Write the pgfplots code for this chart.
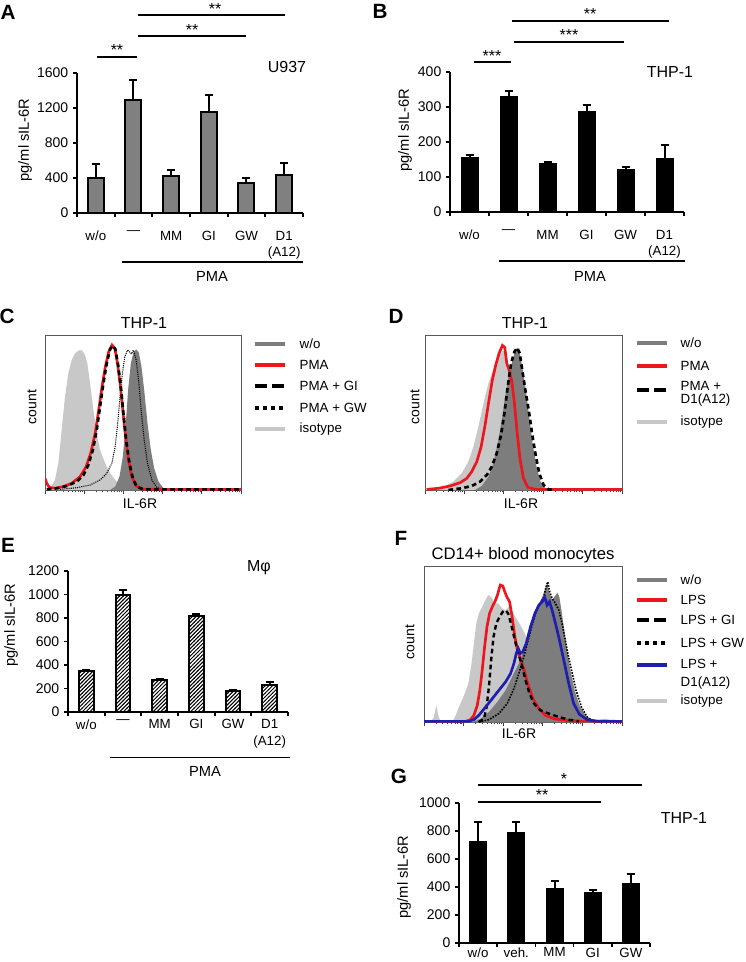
\documentclass[border=0pt]{standalone}
\usepackage{fontspec}
\setmainfont{Liberation Sans}
\usepackage{pgfplots}
\pgfplotsset{compat=1.18}
\usetikzlibrary{patterns}
\pgfdeclarepatternformonly{densehatch}{\pgfqpoint{-1pt}{-1pt}}{\pgfqpoint{4pt}{4pt}}{\pgfqpoint{2.8pt}{2.8pt}}{%
  \pgfsetlinewidth{0.75pt}%
  \pgfpathmoveto{\pgfqpoint{-0.2pt}{-0.2pt}}%
  \pgfpathlineto{\pgfqpoint{3pt}{3pt}}%
  \pgfusepath{stroke}}
\definecolor{isogray}{RGB}{200,200,200}
\definecolor{wogray}{RGB}{125,125,125}
\definecolor{fred}{RGB}{236,22,28}
\definecolor{fblue}{RGB}{30,30,175}
\definecolor{bargray}{RGB}{128,128,128}
\newcommand{\fs}[1]{\fontsize{#1}{#1}\selectfont}
\pgfplotsset{
  barax/.style={
    scale only axis, anchor=south west, clip=false,
    axis lines=left,
    axis line style={-, line width=1.3pt},
    tick style={black, line width=1.3pt},
    tick align=outside, major tick length=3pt,
    ymin=0, xmin=0.5,
    scaled y ticks=false,
    /pgf/number format/assume math mode=true,
    /pgf/number format/1000 sep={},
    yticklabel style={font=\fs{10.5}},
    xticklabels={,,,,,,,},
    extra x tick style={major tick length=0pt},
    xticklabel style={font=\fontsize{10}{12}\selectfont, align=center, anchor=north},
  },
  mybar/.style={ybar, bar width=12pt, draw=black, line width=1.5pt,
    error bars/y dir=plus, error bars/y explicit,
    error bars/error bar style={line width=1.5pt, black, solid},
    error bars/error mark options={rotate=90, line width=1.5pt, black, mark size=3pt, solid}},
  histax/.style={
    scale only axis, anchor=south west,
    xmin=0, xmax=100, ymin=0, ymax=100,
    axis line style={draw=black!65, line width=0.6pt},
    ytick=\empty,
    xtick={0,20,40,60,80,100}, xticklabels={},
    minor xtick={6,9.5,12,14,15.6,16.9,18.1,19.1,26,29.5,32,34,35.6,36.9,38.1,39.1,46,49.5,52,54,55.6,56.9,58.1,59.1,66,69.5,72,74,75.6,76.9,78.1,79.1,86,89.5,92,94,95.6,96.9,98.1,99.1},
    xtick pos=left, tick align=outside,
    major tick length=3pt, minor tick length=1.6pt,
    tick style={black!75, line width=0.5pt},
  },
  isoplot/.style={draw=none, fill=isogray},
  woplot/.style={draw=none, fill=wogray},
}
\begin{document}
\begin{tikzpicture}
\path[use as bounding box] (0pt,0pt) rectangle (558.75pt,-721.5pt);

% ---------------- A ----------------
\begin{axis}[barax, at={(57.75pt,-159.75pt)}, width=169.5pt, height=105pt,
  xmax=6.5, ymax=1600, ytick={0,400,...,1600},
  xtick={0.5,1.5,...,6.5},
  extra x ticks={1,2,3,4,5,6},
  extra x tick labels={w/o,\textemdash,MM,GI,GW,{D1\\[0.5pt](A12)}},
  xticklabel style={yshift=-10pt}]
\addplot[mybar, fill=bargray] table[x=x, y=y, y error=e] {
x y e
1 395 170
2 1295 220
3 420 75
4 1155 195
5 343 61
6 430 140
};
\end{axis}

% ---------------- B ----------------
\begin{axis}[barax, at={(337.5pt,-159pt)}, width=175.5pt, height=105pt,
  xmax=6.5, ymax=400, ytick={0,100,...,400},
  xtick={0.5,1.5,...,6.5},
  extra x ticks={1,2,3,4,5,6},
  extra x tick labels={w/o,\textemdash,MM,GI,GW,{D1\\[0.5pt](A12)}},
  xticklabel style={yshift=-10pt}]
\addplot[mybar, fill=black] table[x=x, y=y, y error=e] {
x y e
1 153 11
2 329 18
3 138 5
4 285 20
5 119 10
6 150 40
};
\end{axis}

% ---------------- C ----------------
\begin{axis}[histax, at={(33.75pt,-367.5pt)}, width=147pt, height=116.25pt]
\addplot[isoplot] coordinates {(0,0)(2.6,1.1)(5.1,6.5)(6.8,17.2)(8.5,38.7)(10.2,60.2)(11.9,75.3)(13.6,83.9)(15.3,88.2)(17.0,89.9)(18.7,90.3)(20.4,87.1)(21.6,81.7)(23.0,68.8)(24.7,51.6)(26.4,36.6)(28.1,25.8)(30.7,17.2)(33.2,10.8)(36.6,5.4)(41.7,1.7)(48.6,0)} \closedcycle;
\addplot[woplot] coordinates {(33.2,0)(35.8,2.2)(38.0,8.6)(39.7,21.5)(41.1,40.9)(42.4,64.5)(43.8,81.7)(45.1,88.6)(46.5,90.8)(47.9,88.6)(49.2,79.6)(50.6,64.5)(52.3,43.0)(54.0,25.8)(55.7,14.0)(57.9,5.4)(60.5,1.1)(63.0,0)} \closedcycle;
\addplot[black, line width=0.8pt, dash pattern=on 0.8pt off 0.8pt] coordinates {(7.7,0.4)(16.2,1.5)(23.0,3.2)(28.1,6.5)(31.5,10.8)(34.1,17.2)(35.8,28.0)(37.1,43.0)(38.3,60.2)(39.5,75.3)(40.7,86.0)(42.1,90.3)(43.1,89.2)(44.1,87.7)(45.1,90.3)(46.5,83.9)(47.9,68.8)(49.2,49.5)(50.6,32.3)(52.3,17.2)(54.5,6.5)(57.1,1.5)(60.5,0.4)};
\addplot[fred, line width=2pt] coordinates {(0,7.5)(0.9,4.3)(2.2,1.7)(5.1,1.1)(9.4,2.2)(13.6,4.3)(17.9,8.6)(21.0,15.1)(23.3,23.7)(25.6,36.6)(27.4,51.6)(29.1,66.7)(30.8,79.6)(32.5,89.2)(34.2,93.5)(35.6,91.4)(37.0,81.7)(38.3,68.8)(39.7,51.6)(41.1,34.4)(42.6,19.4)(44.3,8.6)(46.5,2.6)(49.4,0.6)(62.2,0.4)(100,0.4)};
\addplot[black, line width=2pt, dash pattern=on 3.5pt off 2.5pt] coordinates {(0.9,0.4)(6.0,1.1)(11.1,2.6)(16.2,5.4)(19.6,9.7)(22.1,16.1)(24.4,25.8)(26.4,38.7)(28.1,53.8)(29.8,68.8)(31.5,81.7)(33.2,90.8)(34.6,93.1)(35.9,90.8)(37.3,80.6)(38.7,66.7)(40.0,49.5)(41.4,32.3)(43.1,17.2)(44.8,7.5)(46.8,2.2)(50.3,0.4)(100,0.4)};
\end{axis}

% ---------------- D ----------------
\begin{axis}[histax, at={(318.75pt,-367.5pt)}, width=147.75pt, height=116.25pt]
\addplot[isoplot] coordinates {(4.2,0)(9.3,1.7)(14.4,5.4)(18.6,10.8)(22.0,18.3)(24.6,28.0)(27.1,40.9)(29.7,55.9)(31.9,67.7)(33.9,75.3)(35.9,81.7)(38.0,87.1)(39.7,90.3)(41.0,86.0)(42.4,78.5)(44.1,69.9)(45.8,55.9)(47.8,36.6)(50.0,19.4)(52.2,7.5)(54.6,1.7)(56.8,0)} \closedcycle;
\addplot[woplot] coordinates {(25.4,0)(28.8,2.6)(32.2,8.6)(34.7,17.2)(36.9,30.1)(39.0,45.2)(40.7,60.2)(42.4,73.1)(44.1,81.7)(45.4,88.2)(46.8,92.0)(48.1,88.2)(49.5,78.5)(51.2,64.5)(52.9,47.3)(54.6,30.1)(56.6,15.1)(58.6,5.4)(61.0,1.1)(63.6,0)} \closedcycle;
\addplot[fred, line width=2pt] coordinates {(0.8,0.4)(6.8,1.1)(12.7,2.6)(17.8,4.7)(21.2,7.5)(23.7,11.8)(26.3,18.3)(28.5,28.0)(30.5,41.9)(32.5,58.1)(34.2,71.0)(35.9,80.6)(37.6,88.2)(39.3,93.3)(40.5,92.0)(41.5,81.7)(42.7,77.4)(44.1,69.9)(45.4,55.9)(46.8,36.6)(48.3,19.4)(50.0,7.5)(52.2,1.7)(55.9,0.4)(100,0.4)};
\addplot[black, line width=2pt, dash pattern=on 3.5pt off 2.5pt] coordinates {(11.9,0)(18.6,1.1)(23.7,2.6)(28.0,5.4)(31.4,9.7)(33.9,15.1)(36.4,23.7)(38.6,35.5)(40.3,49.5)(42.0,66.7)(43.7,81.7)(45.4,89.2)(46.8,91.8)(48.1,88.2)(49.5,76.3)(51.2,62.4)(52.9,49.5)(54.6,34.4)(56.3,21.5)(58.0,10.8)(60.2,3.2)(62.7,0.4)(65.3,0)};
\end{axis}

% ---------------- E ----------------
\begin{axis}[barax, at={(51pt,-534pt)}, width=165pt, height=105.75pt,
  xmax=6.5, ymax=1200, ytick={0,200,...,1200},
  xtick={0.5,1.5,...,6.5},
  extra x ticks={1,2,3,4,5,6},
  extra x tick labels={w/o,\textemdash,MM,GI,GW,{D1\\[0.5pt](A12)}},
  xticklabel style={yshift=-2pt}]
\addplot[mybar, bar width=11pt, pattern=densehatch] table[x=x, y=y, y error=e] {
x y e
1 349 11
2 993 48
3 272 6
4 814 16
5 179 11
6 227 28
};
\end{axis}

% ---------------- F ----------------
\begin{axis}[histax, at={(318pt,-541.5pt)}, width=148.5pt, height=117pt]
\addplot[isoplot] coordinates {(3.4,0)(5.0,3.2)(6.2,10.7)(7.2,4.3)(8.4,0)(14.3,0)(16.0,4.3)(18.0,10.7)(20.2,17.1)(22.4,24.6)(24.0,37.5)(25.2,50.3)(26.4,63.2)(27.7,69.6)(29.4,73.9)(31.1,78.2)(32.4,81.4)(34.1,79.9)(35.8,76.0)(37.5,76.0)(39.5,72.8)(41.2,71.7)(42.9,73.9)(44.5,70.7)(46.6,66.4)(48.7,62.1)(50.9,56.7)(52.9,50.3)(55.5,41.8)(58.0,33.2)(60.5,25.7)(63.0,19.3)(66.4,12.8)(70.6,6.4)(76.5,2.1)(83.2,0.6)(91.6,2.1)(95.0,0.6)(98.3,0)} \closedcycle;
\addplot[woplot] coordinates {(24.4,0)(28.6,2.1)(32.8,6.4)(37.0,12.8)(41.2,20.3)(44.5,28.9)(47.9,37.5)(50.4,46.0)(52.6,54.6)(54.6,64.2)(56.3,71.7)(58.0,76.0)(59.7,79.9)(61.0,84.6)(62.2,89.3)(63.4,82.4)(64.7,78.2)(66.1,80.7)(67.4,82.9)(68.4,79.9)(69.4,71.7)(70.8,58.9)(72.3,46.0)(73.9,33.2)(76.1,20.3)(78.5,10.7)(81.5,4.3)(84.9,1.1)(88.2,0)} \closedcycle;
\addplot[fred, line width=2pt] coordinates {(0,0.4)(21.0,0.4)(23.5,1.5)(25.2,4.3)(26.9,10.7)(28.2,20.3)(29.4,33.2)(30.6,48.2)(31.8,61.0)(33.1,69.6)(34.5,73.9)(35.8,77.1)(37.1,81.4)(38.5,87.8)(39.8,87.2)(40.8,83.5)(41.8,80.3)(43.2,77.1)(44.5,67.5)(45.9,54.6)(47.2,46.0)(48.9,39.6)(50.6,33.2)(52.6,23.6)(55.0,15.0)(58.0,8.6)(61.3,4.3)(65.5,2.1)(71.4,1.1)(78.2,0.6)(100,0.4)};
\addplot[black, line width=1.8pt, dash pattern=on 3.5pt off 2.5pt] coordinates {(27.7,0)(30.3,2.1)(31.6,9.6)(32.8,22.5)(33.9,39.6)(35.1,54.6)(36.5,63.2)(38.2,67.5)(39.8,70.7)(41.2,71.7)(42.5,69.6)(43.9,63.2)(45.5,54.6)(47.2,46.0)(49.2,37.5)(51.3,26.8)(53.3,18.2)(55.6,11.8)(58.8,7.5)(63.0,5.4)(68.1,3.2)(73.1,1.5)(78.2,0.4)};
\addplot[black, line width=1.2pt, dash pattern=on 1.2pt off 1pt] coordinates {(27.7,0)(32.8,1.5)(37.8,5.4)(42.0,11.8)(45.4,21.4)(47.9,31.0)(50.4,41.8)(52.6,52.5)(54.6,62.1)(56.6,70.7)(58.8,76.0)(60.5,80.3)(61.7,86.7)(62.5,89.9)(63.5,83.5)(64.7,79.2)(66.4,76.0)(68.1,71.7)(70.1,61.0)(72.3,46.0)(74.5,33.2)(76.8,20.3)(79.5,9.6)(82.4,3.2)(85.7,0.4)};
\addplot[fblue, line width=2pt] coordinates {(0,0.4)(22.7,0.4)(25.2,1.5)(27.7,4.3)(31.1,9.6)(34.5,15.0)(37.8,20.3)(41.2,25.7)(43.7,31.0)(45.4,37.5)(46.6,43.9)(47.6,47.1)(48.7,43.9)(49.9,45.0)(51.6,50.3)(53.8,61.0)(56.0,69.6)(58.0,74.9)(59.7,77.1)(61.0,79.9)(62.2,74.9)(63.4,77.1)(64.7,71.7)(66.4,63.2)(68.4,52.5)(70.6,39.6)(73.1,24.6)(75.6,11.8)(78.5,4.9)(82.4,1.5)(88.2,0.4)(100,0.4)};
\end{axis}

% ---------------- G ----------------
\begin{axis}[barax, at={(344.25pt,-707.25pt)}, width=143.25pt, height=105pt,
  xmax=5.5, ymax=1000, ytick={0,200,...,1000},
  xtick={0.5,1.5,...,5.5},
  extra x ticks={1,2,3,4,5},
  extra x tick labels={w/o,veh.,MM,GI,GW},
  xticklabel style={yshift=0pt}]
\addplot[mybar, fill=black] table[x=x, y=y, y error=e] {
x y e
1 725 139
2 785 79
3 385 60
4 354 24
5 421 72
};
\end{axis}

% ---------------- annotations ----------------
\begin{scope}[x=0.75pt, y=-0.75pt]
% panel letters
\begin{scope}[font=\bfseries\fs{15.5}]
\node at (8,12.5) {A};
\node at (380,11) {B};
\node at (7,316) {C};
\node at (396,316) {D};
\node at (8,545) {E};
\node at (401,538) {F};
\node at (399,776) {G};
\end{scope}
% y labels
\begin{scope}[font=\fs{11}]
\node[rotate=90] at (25,140) {pg/ml sIL-6R};
\node[rotate=90] at (405,130) {pg/ml sIL-6R};
\node[rotate=90] at (11,625) {pg/ml sIL-6R};
\node[rotate=90] at (404,877) {pg/ml sIL-6R};
\end{scope}
% inner labels
\begin{scope}[font=\fs{12}]
\node at (287,67) {U937};
\node at (670,72) {THP-1};
\node at (259,568) {Mφ};
\node at (684,818) {THP-1};
\node at (144,323) {THP-1};
\node at (525,323) {THP-1};
\node[font=\fs{12.5}] at (523,555) {CD14+ blood monocytes};
\end{scope}
% significance
\begin{scope}[line width=1pt]
\draw (97,57) -- (137,57);
\draw (138,36) -- (246,36);
\draw (138,15) -- (285,15);
\draw (474,62) -- (511,62);
\draw (514,42) -- (624,42);
\draw (512,21) -- (669,21);
\draw (478,802) -- (601,802);
\draw (478,785) -- (642,785);
\draw (122,262) -- (303,262);
\draw (499,261) -- (685,261);
\draw (110,757.5) -- (290,757.5);
\end{scope}
\begin{scope}[font=\fs{12}]
\node at (117,50) {**};
\node at (192,30) {**};
\node at (215,9) {**};
\node at (492,56) {***};
\node at (569,35) {***};
\node at (590,14) {**};
\node at (542,795) {**};
\node at (564,779) {*};
\end{scope}
\begin{scope}[font=\fs{11}]
\node at (212,276) {PMA};
\node at (590,276) {PMA};
\node at (205,771) {PMA};
\end{scope}
% histogram axis labels
\begin{scope}[font=\fs{10.5}]
\node[rotate=90] at (32,407) {count};
\node[rotate=90] at (415,407) {count};
\node[rotate=90] at (410,642) {count};
\node at (140,504) {IL-6R};
\node at (521,504) {IL-6R};
\node at (519,734) {IL-6R};
\end{scope}
% legends
\begin{scope}[font=\fs{10}]
% C
\draw[wogray, line width=3pt] (255,344) -- (285,344); \node[anchor=west] at (295,344) {w/o};
\draw[fred, line width=3pt] (255,365) -- (285,365); \node[anchor=west] at (295,365) {PMA};
\draw[black, line width=3pt, dash pattern=on 9pt off 4pt] (255,386) -- (285,386); \node[anchor=west] at (295,386) {PMA + GI};
\draw[black, line width=3pt, dash pattern=on 3pt off 3pt] (255,408) -- (285,408); \node[anchor=west] at (295,408) {PMA + GW};
\draw[isogray, line width=3pt] (255,429) -- (285,429); \node[anchor=west] at (295,429) {isotype};
% D
\draw[wogray, line width=3pt] (637,343) -- (667,343); \node[anchor=west] at (676,343) {w/o};
\draw[fred, line width=3pt] (637,366) -- (667,366); \node[anchor=west] at (676,366) {PMA};
\draw[black, line width=3pt, dash pattern=on 9pt off 4pt] (637,390) -- (667,390); \node[anchor=west] at (676,386) {PMA +}; \node[anchor=west] at (676,400) {D1(A12)};
\draw[isogray, line width=3pt] (637,422) -- (667,422); \node[anchor=west] at (676,422) {isotype};
% F
\draw[wogray, line width=3pt] (637,580) -- (667,580); \node[anchor=west] at (676,580) {w/o};
\draw[fred, line width=3pt] (637,600) -- (667,600); \node[anchor=west] at (676,600) {LPS};
\draw[black, line width=3pt, dash pattern=on 9pt off 4pt] (637,620) -- (667,620); \node[anchor=west] at (676,620) {LPS + GI};
\draw[black, line width=3pt, dash pattern=on 3pt off 3pt] (637,643) -- (667,643); \node[anchor=west] at (676,643) {LPS + GW};
\draw[fblue, line width=3pt] (637,665) -- (667,665); \node[anchor=west] at (676,664) {LPS +}; \node[anchor=west] at (676,683) {D1(A12)};
\draw[isogray, line width=3pt] (637,701) -- (667,701); \node[anchor=west] at (676,701) {isotype};
\end{scope}
\end{scope}
\end{tikzpicture}
\end{document}
